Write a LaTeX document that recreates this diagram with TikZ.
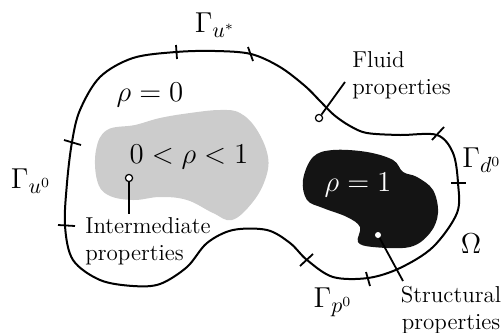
\documentclass[tikz,border=0pt]{standalone}
\begin{document}
\begin{tikzpicture}[x=0.5pt,y=-0.5pt,
  bnd/.style={line width=1pt,line join=round},
  tk/.style={line width=0.9pt},
  lbl/.style={font=\fontsize{11.5}{13.5}\selectfont,align=left,inner sep=0pt},
  mth/.style={font=\fontsize{13.5}{15}\selectfont,inner sep=0pt},
  gam/.style={font=\fontsize{15}{17}\selectfont,inner sep=0pt},
  odot/.style={circle,draw,fill=white,line width=0.6pt,inner sep=0pt,minimum size=3.6pt},
  lead/.style={line width=0.9pt}]
\useasboundingbox (0,0) rectangle (502,332);
% gray region
\fill[gray!40] plot[smooth cycle,tension=0.65] coordinates {
 (96,150) (107,130) (135,125) (160,118) (190,113) (220,110) (240,113)
 (257,130) (268,157) (265,180) (252,203) (232,220) (213,213) (187,200)
 (160,197) (133,200) (108,195) (97,180)};
% black region
\fill[black!92] plot[smooth cycle,tension=0.6] coordinates {
 (313,157) (333,150) (367,152) (393,160) (403,172) (417,177) (433,190)
 (438,213) (430,233) (410,247) (373,247) (358,242) (360,227) (347,217)
 (323,208) (307,200) (303,180)};
% outer boundary
\draw[bnd] plot[smooth cycle,tension=0.55] coordinates {
 (176,52) (215,51) (251,54) (280,67) (305,86) (320,101) (334,115) (350,126)
 (367,133) (400,135) (437,135) (453,153) (458,183) (457,213) (433,247)
 (400,268) (368,278) (333,277) (307,260) (290,243) (267,230) (233,230)
 (207,243) (187,267) (160,284) (133,286) (100,280) (73,260) (65,226)
 (67,183) (72,142) (80,110) (100,77) (133,58)};
% ticks
\draw[tk] (176,45) -- (177,59);
\draw[tk] (248,47) -- (253,61);
\draw[tk] (64,140) -- (81,145);
\draw[tk] (58,225) -- (75,226);
\draw[tk] (300,266) -- (313,254);
\draw[tk] (366,272) -- (370,286);
\draw[tk] (451,183) -- (466,183);
\draw[tk] (432,140) -- (444,127);
% labels
\node[gam] (gus) at (215,25) {$\Gamma_{u^*}$};
\node[gam] (gu0) at (31,181) {$\Gamma_{u^0}$};
\node[gam,anchor=west] (gd0) at (462,160) {$\Gamma_{d^0}$};
\node[gam] (gp0) at (333,302) {$\Gamma_{p^0}$};
\node[mth] (r0) at (150,95) {$\rho=0$};
\node[mth] (rm) at (189,157) {$0<\rho<1$};
\node[mth,text=white] (r1) at (358,185) {$\rho=1$};
\node[mth] (om) at (471,244) {$\Omega$};
\node[lbl,anchor=west] (fl) at (352,75) {Fluid\\properties};
\node[lbl,anchor=west] (im) at (85,241) {Intermediate\\properties};
\node[lbl,align=center] (st) at (451,310) {Structural\\properties};
% leaders
\node[odot] (fd) at (319,118) {};
\coordinate (fe) at (345,82);
\draw[lead] (fd) -- (fe);
\node[odot] (id) at (129,178) {};
\coordinate (ie) at (129,214);
\draw[lead] (id) -- (ie);
\node[circle,fill=white,inner sep=0pt,minimum size=3pt] (sd) at (378,235) {};
\coordinate (se) at (403,281);
\draw[lead] (sd) -- (se);
\end{tikzpicture}
\end{document}
